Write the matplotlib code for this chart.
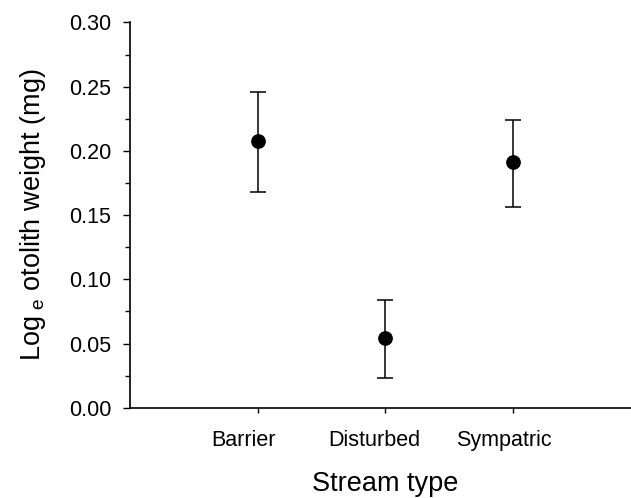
import numpy as np
import matplotlib.pyplot as plt
from matplotlib.transforms import ScaledTranslation

plt.rcParams['font.family'] = ['Liberation Sans', 'DejaVu Sans']
plt.rcParams['mathtext.fontset'] = 'custom'
plt.rcParams['mathtext.rm'] = 'Liberation Sans'

# Mean log otolith weight per stream type, with lower/upper error bounds
streams = ["Barrier", "Disturbed", "Sympatric"]
means = [0.208, 0.054, 0.191]
lower = [0.168, 0.023, 0.156]
upper = [0.246, 0.084, 0.224]

x = np.arange(1, len(streams) + 1)
yerr = [np.array(means) - np.array(lower), np.array(upper) - np.array(means)]

fig = plt.figure(figsize=(6.31, 4.98), dpi=100)
# x axis runs past the right edge of the figure
ax = fig.add_axes([0.2068, 0.181, 0.808, 0.774])

ax.errorbar(x, means, yerr=yerr, fmt='o', color='black', markersize=9.6,
            capsize=6, elinewidth=1.1, capthick=1.1)

ax.set_xlim(0, 4)
ax.set_ylim(0, 0.30)
ax.set_xticks(x)
ax.set_xticklabels(streams)
ax.set_yticks(np.arange(0, 0.301, 0.05))
ax.set_yticks(np.arange(0.025, 0.3, 0.05), minor=True)
ax.yaxis.set_major_formatter(plt.FormatStrFormatter('%.2f'))

for side in ['top', 'right']:
    ax.spines[side].set_visible(False)
for side in ['left', 'bottom']:
    ax.spines[side].set_linewidth(1.2)

ax.tick_params(axis='both', which='major', direction='out', width=1,
               labelsize=15.5)
ax.tick_params(axis='y', which='major', length=5.3, pad=8.7)
ax.tick_params(axis='y', which='minor', direction='out', length=3.6, width=1)
ax.tick_params(axis='x', which='major', length=3.6, pad=12.4)

# category labels sit a little left of their ticks
shifts = [-14, -11, -9]
for lbl, dx in zip(ax.get_xticklabels(), shifts):
    lbl.set_transform(lbl.get_transform() + ScaledTranslation(dx / 100, 0, fig.dpi_scale_trans))

ax.set_xlabel("Stream type", fontsize=19.5, labelpad=14)
ax.set_ylabel(r"Log$_{\rm\ e}$ otolith weight (mg)", fontsize=19.5, labelpad=15)

fig.savefig("out.png", dpi=100)
